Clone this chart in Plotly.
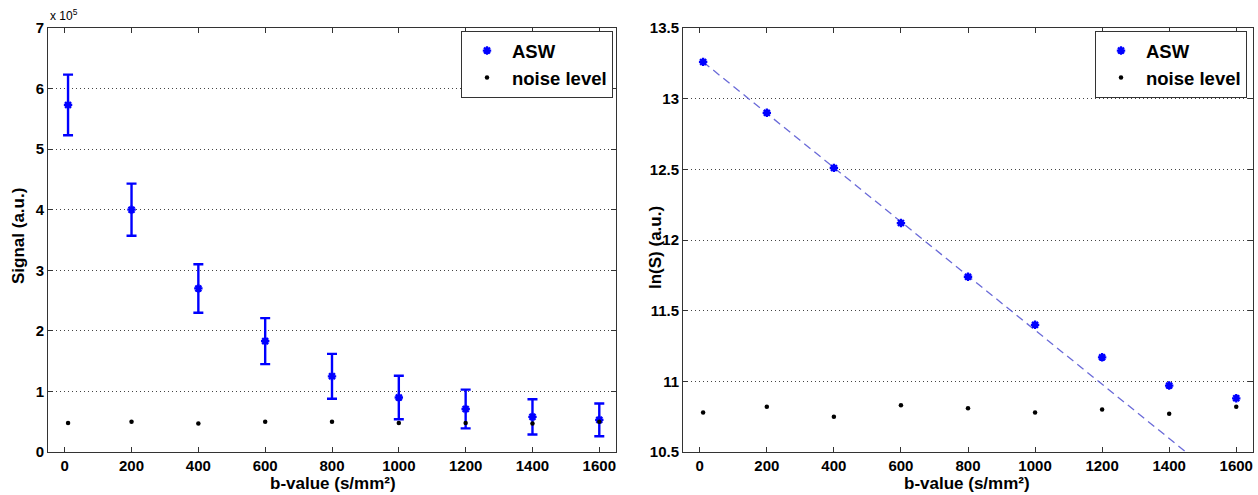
import plotly.graph_objects as go

# ---- data ----
b_values = [10, 200, 400, 600, 800, 1000, 1200, 1400, 1600]
asw_signal = [5.73, 4.00, 2.70, 1.83, 1.25, 0.90, 0.71, 0.58, 0.53]      # x 1e5
asw_err = [0.50, 0.43, 0.40, 0.38, 0.37, 0.36, 0.32, 0.29, 0.27]          # x 1e5
noise_signal = [0.48, 0.50, 0.47, 0.50, 0.50, 0.48, 0.48, 0.47, 0.50]    # x 1e5
asw_ln = [13.26, 12.90, 12.51, 12.12, 11.74, 11.40, 11.17, 10.97, 10.88]
noise_ln = [10.78, 10.82, 10.75, 10.83, 10.81, 10.78, 10.80, 10.77, 10.82]
fit_intercept = 13.279
fit_slope = -0.0019167
fit_b = [10, 1600]
x_ticks = [0, 200, 400, 600, 800, 1000, 1200, 1400, 1600]
yt1 = [0, 1, 2, 3, 4, 5, 6, 7]
yt2 = [10.5, 11, 11.5, 12, 12.5, 13, 13.5]

BLUE = "#0000ff"
FONT = "Liberation Sans, Arial, sans-serif"

W, H = 1258, 495


def px(x):
    return x / W


def py(y):
    return 1 - y / H


fig = go.Figure()

asw_marker = dict(symbol="asterisk-open", size=7, color=BLUE, line=dict(color=BLUE, width=2.3))
noise_marker = dict(symbol="circle", size=4.5, color="black")

# Left panel
fig.add_trace(go.Scatter(
    x=b_values, y=asw_signal, mode="markers", name="<b>ASW</b>",
    marker=asw_marker,
    error_y=dict(type="data", array=asw_err, color=BLUE, thickness=2.4, width=5),
    xaxis="x", yaxis="y", legend="legend"))
fig.add_trace(go.Scatter(
    x=b_values, y=noise_signal, mode="markers", name="<b>noise level</b>",
    marker=noise_marker, xaxis="x", yaxis="y", legend="legend"))

# Right panel
fit_y = [fit_intercept + fit_slope * b for b in fit_b]
fig.add_trace(go.Scatter(
    x=fit_b, y=fit_y, mode="lines", showlegend=False,
    line=dict(color="#6a6ad8", width=1.3, dash="8px,5px"),
    xaxis="x2", yaxis="y2"))
fig.add_trace(go.Scatter(
    x=b_values, y=asw_ln, mode="markers", name="<b>ASW</b>",
    marker=asw_marker, xaxis="x2", yaxis="y2", legend="legend2"))
fig.add_trace(go.Scatter(
    x=b_values, y=noise_ln, mode="markers", name="<b>noise level</b>",
    marker=noise_marker, xaxis="x2", yaxis="y2", legend="legend2"))

axis_common = dict(
    showline=True, linecolor="#333333", linewidth=1, mirror="ticks",
    ticks="inside", ticklen=5, tickcolor="#333333",
    tickfont=dict(family=FONT, size=15, color="black"),
    zeroline=False, automargin=False,
)
xaxis_common = dict(axis_common, range=[-50, 1650], tickvals=x_ticks,
                    ticktext=[f"<b>{t}</b>" for t in x_ticks], showgrid=False)
grid = dict(showgrid=True, gridcolor="#444444", griddash="1px,3px", gridwidth=1)

title_font = dict(family=FONT, size=17, color="black")
legend_common = dict(xanchor="right", yanchor="top",
                     bgcolor="white", bordercolor="#333333", borderwidth=1,
                     font=dict(family=FONT, size=18.5, color="black"), tracegroupgap=0,
                     itemwidth=40)

fig.update_layout(
    width=W, height=H,
    margin=dict(l=0, r=0, t=0, b=0),
    paper_bgcolor="white", plot_bgcolor="white",
    font=dict(family=FONT, color="black"),
    xaxis=dict(xaxis_common, domain=[px(48), px(616)], anchor="y"),
    yaxis=dict(axis_common, **grid, domain=[py(452), py(28)], anchor="x", range=[0, 7],
               tickvals=yt1, ticktext=[f"<b>{t}</b>" for t in yt1]),
    xaxis2=dict(xaxis_common, domain=[px(683), px(1253)], anchor="y2"),
    yaxis2=dict(axis_common, **grid, domain=[py(452), py(28)], anchor="x2", range=[10.5, 13.5],
                tickvals=yt2, ticktext=[f"<b>{t:g}</b>" for t in yt2]),
    legend=dict(legend_common, x=px(613), y=py(31)),
    legend2=dict(legend_common, x=px(1247), y=py(31)),
    annotations=[
        dict(text="x 10<sup>5</sup>", x=px(48), y=py(15), xref="paper", yref="paper",
             xanchor="left", yanchor="middle", showarrow=False,
             font=dict(family=FONT, size=12, color="black")),
        dict(text="<b>b-value (s/mm²)</b>", x=px(333), y=py(483), xref="paper", yref="paper",
             xanchor="center", yanchor="middle", showarrow=False, font=title_font),
        dict(text="<b>b-value (s/mm²)</b>", x=px(967), y=py(483), xref="paper", yref="paper",
             xanchor="center", yanchor="middle", showarrow=False, font=title_font),
        dict(text="<b>Signal (a.u.)</b>", x=px(19), y=py(236), xref="paper", yref="paper",
             xanchor="center", yanchor="middle", textangle=-90, showarrow=False, font=title_font),
        dict(text="<b>ln(S) (a.u.)</b>", x=px(655), y=py(248), xref="paper", yref="paper",
             xanchor="center", yanchor="middle", textangle=-90, showarrow=False, font=title_font),
    ],
)

fig.write_html("out.html", config={"displayModeBar": False},
               post_script="document.body.style.margin='0';document.body.style.overflow='hidden';")
